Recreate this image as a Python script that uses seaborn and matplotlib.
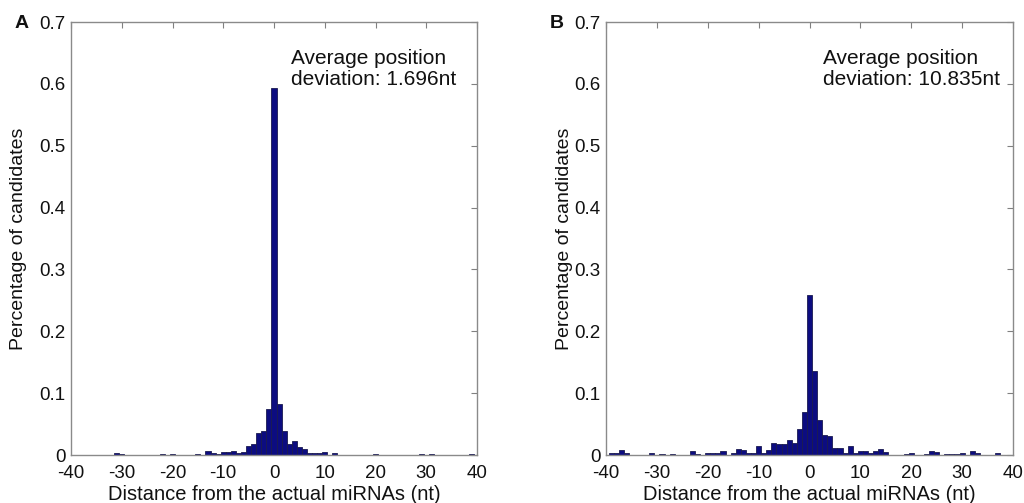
import numpy as np
import pandas as pd
import matplotlib
matplotlib.use("Agg")
import matplotlib.pyplot as plt
import seaborn as sns

# ---- data ----
pos_a = [-31, -30, -22, -20, -15, -13, -12, -11, -10, -9, -8, -7, -6, -5, -4, -3, -2, -1,
         0, 1, 2, 3, 4, 5, 6, 7, 8, 9, 10, 12, 20, 29, 31, 39]
val_a = [0.004, 0.001, 0.002, 0.002, 0.002, 0.006, 0.003, 0.002, 0.005, 0.005, 0.0065, 0.004,
         0.005, 0.015, 0.018, 0.036, 0.038, 0.074,
         0.593, 0.082, 0.039, 0.017, 0.023, 0.013, 0.010, 0.003, 0.003, 0.003, 0.005, 0.003,
         0.001, 0.002, 0.002, 0.002]

pos_b = [-39, -38, -37, -36, -31, -29, -27, -23, -22, -20, -19, -18, -17, -15, -14, -13, -12,
         -11, -10, -9, -8, -7, -6, -5, -4, -3, -2, -1,
         0, 1, 2, 3, 4, 5, 6, 7, 8, 9, 10, 11, 12, 13, 14, 15, 19, 20, 23, 24, 25, 27, 28, 29,
         30, 32, 33, 37]
val_b = [0.004, 0.004, 0.008, 0.004, 0.003, 0.002, 0.002, 0.0065, 0.002, 0.003, 0.003, 0.003,
         0.006, 0.004, 0.009, 0.008, 0.003, 0.003, 0.015, 0.003, 0.0075, 0.020, 0.017, 0.017,
         0.024, 0.020, 0.0425, 0.069,
         0.259, 0.136, 0.0565, 0.033, 0.031, 0.011, 0.011, 0.004, 0.015, 0.003, 0.007, 0.007,
         0.003, 0.007, 0.009, 0.005, 0.002, 0.003, 0.002, 0.0065, 0.005, 0.002, 0.002, 0.002,
         0.003, 0.0065, 0.003, 0.003]

panel_letters = ["A", "B"]
annotations = ["Average position\ndeviation: 1.696nt", "Average position\ndeviation: 10.835nt"]
x_ticks = [-40, -30, -20, -10, 0, 10, 20, 30, 40]
y_ticks = [0, 0.1, 0.2, 0.3, 0.4, 0.5, 0.6, 0.7]
x_label = "Distance from the actual miRNAs (nt)"
y_label = "Percentage of candidates"

sns.set_style("white")
plt.rcParams["font.family"] = ["Liberation Sans", "DejaVu Sans"]

fig = plt.figure(figsize=(10.24, 5.03), dpi=100)
ax_a = fig.add_axes([71 / 1024, 1 - 455 / 503, 406 / 1024, 433 / 503])
ax_b = fig.add_axes([606 / 1024, 1 - 455 / 503, 407 / 1024, 433 / 503])

bar_color = "#0c0c80"
datasets = [(pos_a, val_a), (pos_b, val_b)]
ylabel_x = [-0.108, -0.08]
letter_x = [22 / 1024, 557 / 1024]
annot_x = [3.4, 2.6]

for i, ax in enumerate([ax_a, ax_b]):
    p, v = datasets[i]
    df = pd.DataFrame({"pos": p, "val": v})
    sns.histplot(data=df, x="pos", weights="val", discrete=True, stat="count",
                 color=bar_color, edgecolor="#1a1a50", linewidth=0.6, alpha=1.0, ax=ax)
    ax.set_xlim(-40, 40)
    ax.set_ylim(0, 0.7)
    ax.set_xticks(x_ticks)
    ax.set_yticks(y_ticks)
    ax.set_xticklabels([str(t) for t in x_ticks])
    ax.set_yticklabels(["0"] + [f"{t:.1f}" for t in y_ticks[1:]])
    ax.tick_params(axis="both", which="both", direction="in", length=4, width=0.8,
                   color="#808080", labelsize=13.5, top=True, right=True,
                   labelcolor="#111111")
    ax.tick_params(axis="x", pad=7.5)
    ax.tick_params(axis="y", pad=4)
    for s in ax.spines.values():
        s.set_visible(True)
        s.set_color("#8a8a8a")
        s.set_linewidth(1.0)
    ax.set_xlabel(x_label, fontsize=14.5, color="#111111")
    ax.set_ylabel(y_label, fontsize=14, color="#111111")
    ax.xaxis.set_label_coords(0.5, -0.069)
    ax.yaxis.set_label_coords(ylabel_x[i], 0.5)
    ax.text(annot_x[i], 0.656, annotations[i], fontsize=15, va="top", ha="left",
            color="#111111", linespacing=1.1)
    fig.text(letter_x[i], 1 - 24 / 503, panel_letters[i], fontsize=14, fontweight="bold",
             ha="center", va="center", color="#111111")

fig.savefig("out.png", dpi=100, facecolor="white")
